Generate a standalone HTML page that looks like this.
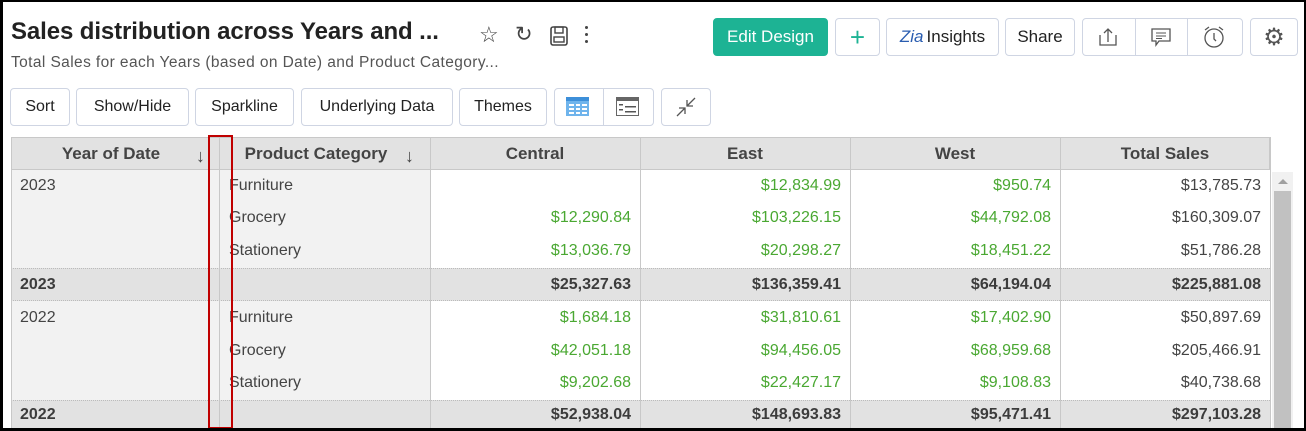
<!DOCTYPE html>
<html><head><meta charset="utf-8"><style>
*{box-sizing:border-box;margin:0;padding:0}
body{width:1306px;height:431px;overflow:hidden;background:#000;font-family:"Liberation Sans",sans-serif;position:relative}
#pg{position:absolute;left:3px;top:2px;width:1301px;height:426px;background:#fff;overflow:hidden}
.a{position:absolute}
.btn{position:absolute;border:1px solid #cfd5e3;border-radius:4px;background:#fff;color:#222;font-size:16px;display:flex;align-items:center;justify-content:center;white-space:nowrap}
.c{position:absolute;font-size:16px;white-space:nowrap;height:33px;line-height:33px}
.r{text-align:right}
.g{color:#4aa832}
.d{color:#444}
.b{font-weight:bold;color:#3c3c3c}
</style></head><body><div id="pg">
<div class="a" style="left:8px;top:16px;font-size:24px;font-weight:bold;color:#222;letter-spacing:-0.1px">Sales distribution across Years and ...</div>
<div class="a" style="left:8px;top:52px;font-size:15.5px;color:#555;letter-spacing:0.4px">Total Sales for each Years (based on Date) and Product Category...</div>
<div class="a" style="left:476px;top:20px;font-size:22px;color:#444">☆</div>
<div class="a" style="left:512px;top:20px;font-size:21px;color:#444">↻</div>
<svg class="a" style="left:546px;top:23px" width="20" height="22"><rect x="2" y="2" width="16" height="18" rx="2" fill="none" stroke="#444" stroke-width="1.6"/><rect x="6" y="2" width="8" height="6" fill="none" stroke="#444" stroke-width="1.4"/><rect x="5" y="12" width="10" height="5" fill="none" stroke="#444" stroke-width="1.4"/></svg>
<div class="a" style="left:582px;top:24px;width:4px;height:20px"><div style="width:3px;height:3px;background:#444;border-radius:50%;margin-bottom:4px"></div><div style="width:3px;height:3px;background:#444;border-radius:50%;margin-bottom:4px"></div><div style="width:3px;height:3px;background:#444;border-radius:50%"></div></div>

<div class="btn" style="left:710px;top:16px;width:115px;height:38px;background:#1db394;border-color:#1db394;color:#fff;font-size:17px">Edit Design</div>
<div class="btn" style="left:832px;top:16px;width:45px;height:38px;color:#1db394;font-size:26px">+</div>
<div class="btn" style="left:883px;top:16px;width:113px;height:38px;font-size:17px"><span style="color:#2a5db0;font-style:italic;margin-right:3px">Zia</span>Insights</div>
<div class="btn" style="left:1002px;top:16px;width:70px;height:38px;font-size:17px">Share</div>
<div class="btn" style="left:1079px;top:16px;width:161px;height:38px"></div>
<div class="a" style="left:1132px;top:17px;width:1px;height:36px;background:#cfd5e3"></div>
<div class="a" style="left:1184px;top:17px;width:1px;height:36px;background:#cfd5e3"></div>
<svg class="a" style="left:1093px;top:24px" width="24" height="22"><path d="M4 9V19H20V9M12 16V3M8 7L12 3L16 7" fill="none" stroke="#555" stroke-width="1.3"/></svg>
<svg class="a" style="left:1146px;top:24px" width="24" height="22"><path d="M3 3H21V15H10L7 19V15H3Z" fill="none" stroke="#555" stroke-width="1.3"/><path d="M7 7H17M7 10H17M7 12.5H13" stroke="#555" stroke-width="1.1"/></svg>
<svg class="a" style="left:1198px;top:22px" width="26" height="26"><circle cx="13" cy="14" r="9" fill="none" stroke="#555" stroke-width="1.3"/><path d="M13 9V15L15 17M4 6L8 3M22 6L18 3" fill="none" stroke="#555" stroke-width="1.3"/></svg>
<div class="btn" style="left:1247px;top:16px;width:48px;height:38px;font-size:24px;color:#555">⚙</div>

<div class="btn" style="left:7px;top:86px;width:60px;height:38px">Sort</div>
<div class="btn" style="left:73px;top:86px;width:113px;height:38px">Show/Hide</div>
<div class="btn" style="left:192px;top:86px;width:99px;height:38px">Sparkline</div>
<div class="btn" style="left:298px;top:86px;width:152px;height:38px">Underlying Data</div>
<div class="btn" style="left:456px;top:86px;width:88px;height:38px">Themes</div>
<div class="btn" style="left:551px;top:86px;width:100px;height:38px"></div>
<div class="a" style="left:600px;top:87px;width:1px;height:36px;background:#cfd5e3"></div>
<svg class="a" style="left:563px;top:95px" width="24" height="20"><rect x="0" y="0" width="23" height="19" fill="#6fb4ec"/><rect x="0" y="0" width="23" height="4" fill="#3d8fd9"/><g fill="#fff"><rect x="3" y="7" width="5" height="2"/><rect x="10" y="7" width="4" height="2"/><rect x="16" y="7" width="5" height="2"/><rect x="3" y="11" width="5" height="2"/><rect x="10" y="11" width="4" height="2"/><rect x="16" y="11" width="5" height="2"/><rect x="3" y="15" width="5" height="2"/><rect x="10" y="15" width="4" height="2"/><rect x="16" y="15" width="5" height="2"/></g></svg>
<svg class="a" style="left:613px;top:95px" width="24" height="20"><rect x="0.5" y="0.5" width="22" height="18" fill="#fff" stroke="#666"/><rect x="0" y="0" width="23" height="4" fill="#666"/><g fill="#555"><rect x="3" y="7" width="4" height="1.5"/><rect x="9" y="9" width="11" height="1.5"/><rect x="3" y="12" width="4" height="1.5"/><rect x="9" y="14" width="11" height="1.5"/></g></svg>
<div class="btn" style="left:658px;top:86px;width:50px;height:38px"></div>
<svg class="a" style="left:670px;top:94px" width="26" height="22"><path d="M22 2L14 10M14 4V10H20M4 20L12 12M12 18V12H6" fill="none" stroke="#555" stroke-width="1.3"/></svg>

<div class="a" style="left:8px;top:135px;width:1259px;height:33px;background:#e2e2e2;border:1px solid #c8c8c8"></div>
<div class="a" style="left:8px;top:168px;width:419px;height:258px;background:#f2f2f2"></div>
<div class="a" style="left:8px;top:266px;width:1259px;height:33px;background:#e2e2e2;border-top:1px dotted #bbb;border-bottom:1px dotted #bbb"></div>
<div class="a" style="left:8px;top:398px;width:1259px;height:30px;background:#e2e2e2;border-top:1px dotted #bbb"></div>
<div class="a" style="left:8px;top:135px;width:1px;height:291px;background:#c8c8c8"></div>
<div class="a" style="left:216px;top:135px;width:1px;height:291px;background:#c8c8c8"></div>
<div class="a" style="left:427px;top:135px;width:1px;height:291px;background:#c8c8c8"></div>
<div class="a" style="left:637px;top:135px;width:1px;height:291px;background:#c8c8c8"></div>
<div class="a" style="left:847px;top:135px;width:1px;height:291px;background:#c8c8c8"></div>
<div class="a" style="left:1057px;top:135px;width:1px;height:291px;background:#c8c8c8"></div>
<div class="a" style="left:1267px;top:135px;width:1px;height:291px;background:#c8c8c8"></div>

<div class="c" style="left:8px;top:135px;width:200px;text-align:center;font-size:17px;color:#444;font-weight:bold">Year of Date</div>
<div class="c" style="left:193px;top:138px;font-size:18px;color:#444">↓</div>
<div class="c" style="left:228px;top:135px;width:170px;text-align:center;font-size:17px;color:#444;font-weight:bold">Product Category</div>
<div class="c" style="left:402px;top:138px;font-size:18px;color:#444">↓</div>
<div class="c" style="left:427px;top:135px;width:210px;text-align:center;font-size:17px;color:#444;font-weight:bold">Central</div>
<div class="c" style="left:637px;top:135px;width:210px;text-align:center;font-size:17px;color:#444;font-weight:bold">East</div>
<div class="c" style="left:847px;top:135px;width:210px;text-align:center;font-size:17px;color:#444;font-weight:bold">West</div>
<div class="c" style="left:1057px;top:135px;width:210px;text-align:center;font-size:17px;color:#444;font-weight:bold">Total Sales</div>

<div class="c d" style="left:17px;top:167px">2023</div>
<div class="c d" style="left:226px;top:167px">Furniture</div>
<div class="c d" style="left:226px;top:199px">Grocery</div>
<div class="c d" style="left:226px;top:232px">Stationery</div>
<div class="c b" style="left:17px;top:266px">2023</div>
<div class="c d" style="left:17px;top:299px">2022</div>
<div class="c d" style="left:226px;top:299px">Furniture</div>
<div class="c d" style="left:226px;top:332px">Grocery</div>
<div class="c d" style="left:226px;top:364px">Stationery</div>
<div class="c b" style="left:17px;top:396px">2022</div>

<div class="c r g" style="left:427px;top:199px;width:201px">$12,290.84</div>
<div class="c r g" style="left:427px;top:232px;width:201px">$13,036.79</div>
<div class="c r b" style="left:427px;top:266px;width:201px">$25,327.63</div>
<div class="c r g" style="left:427px;top:299px;width:201px">$1,684.18</div>
<div class="c r g" style="left:427px;top:332px;width:201px">$42,051.18</div>
<div class="c r g" style="left:427px;top:364px;width:201px">$9,202.68</div>
<div class="c r b" style="left:427px;top:396px;width:201px">$52,938.04</div>

<div class="c r g" style="left:637px;top:167px;width:201px">$12,834.99</div>
<div class="c r g" style="left:637px;top:199px;width:201px">$103,226.15</div>
<div class="c r g" style="left:637px;top:232px;width:201px">$20,298.27</div>
<div class="c r b" style="left:637px;top:266px;width:201px">$136,359.41</div>
<div class="c r g" style="left:637px;top:299px;width:201px">$31,810.61</div>
<div class="c r g" style="left:637px;top:332px;width:201px">$94,456.05</div>
<div class="c r g" style="left:637px;top:364px;width:201px">$22,427.17</div>
<div class="c r b" style="left:637px;top:396px;width:201px">$148,693.83</div>

<div class="c r g" style="left:847px;top:167px;width:201px">$950.74</div>
<div class="c r g" style="left:847px;top:199px;width:201px">$44,792.08</div>
<div class="c r g" style="left:847px;top:232px;width:201px">$18,451.22</div>
<div class="c r b" style="left:847px;top:266px;width:201px">$64,194.04</div>
<div class="c r g" style="left:847px;top:299px;width:201px">$17,402.90</div>
<div class="c r g" style="left:847px;top:332px;width:201px">$68,959.68</div>
<div class="c r g" style="left:847px;top:364px;width:201px">$9,108.83</div>
<div class="c r b" style="left:847px;top:396px;width:201px">$95,471.41</div>

<div class="c r d" style="left:1057px;top:167px;width:201px">$13,785.73</div>
<div class="c r d" style="left:1057px;top:199px;width:201px">$160,309.07</div>
<div class="c r d" style="left:1057px;top:232px;width:201px">$51,786.28</div>
<div class="c r b" style="left:1057px;top:266px;width:201px">$225,881.08</div>
<div class="c r d" style="left:1057px;top:299px;width:201px">$50,897.69</div>
<div class="c r d" style="left:1057px;top:332px;width:201px">$205,466.91</div>
<div class="c r d" style="left:1057px;top:364px;width:201px">$40,738.68</div>
<div class="c r b" style="left:1057px;top:396px;width:201px">$297,103.28</div>

<div class="a" style="left:1269px;top:170px;width:21px;height:256px;background:#f1f1f1"></div>
<div class="a" style="left:1275px;top:177px;width:0;height:0;border-left:5px solid transparent;border-right:5px solid transparent;border-bottom:5px solid #a0a0a0"></div>
<div class="a" style="left:1271px;top:189px;width:17px;height:237px;background:#c1c1c1"></div>

<div class="a" style="left:205px;top:133px;width:25px;height:294px;border:2.5px solid #c00000"></div>
</div></body></html>
